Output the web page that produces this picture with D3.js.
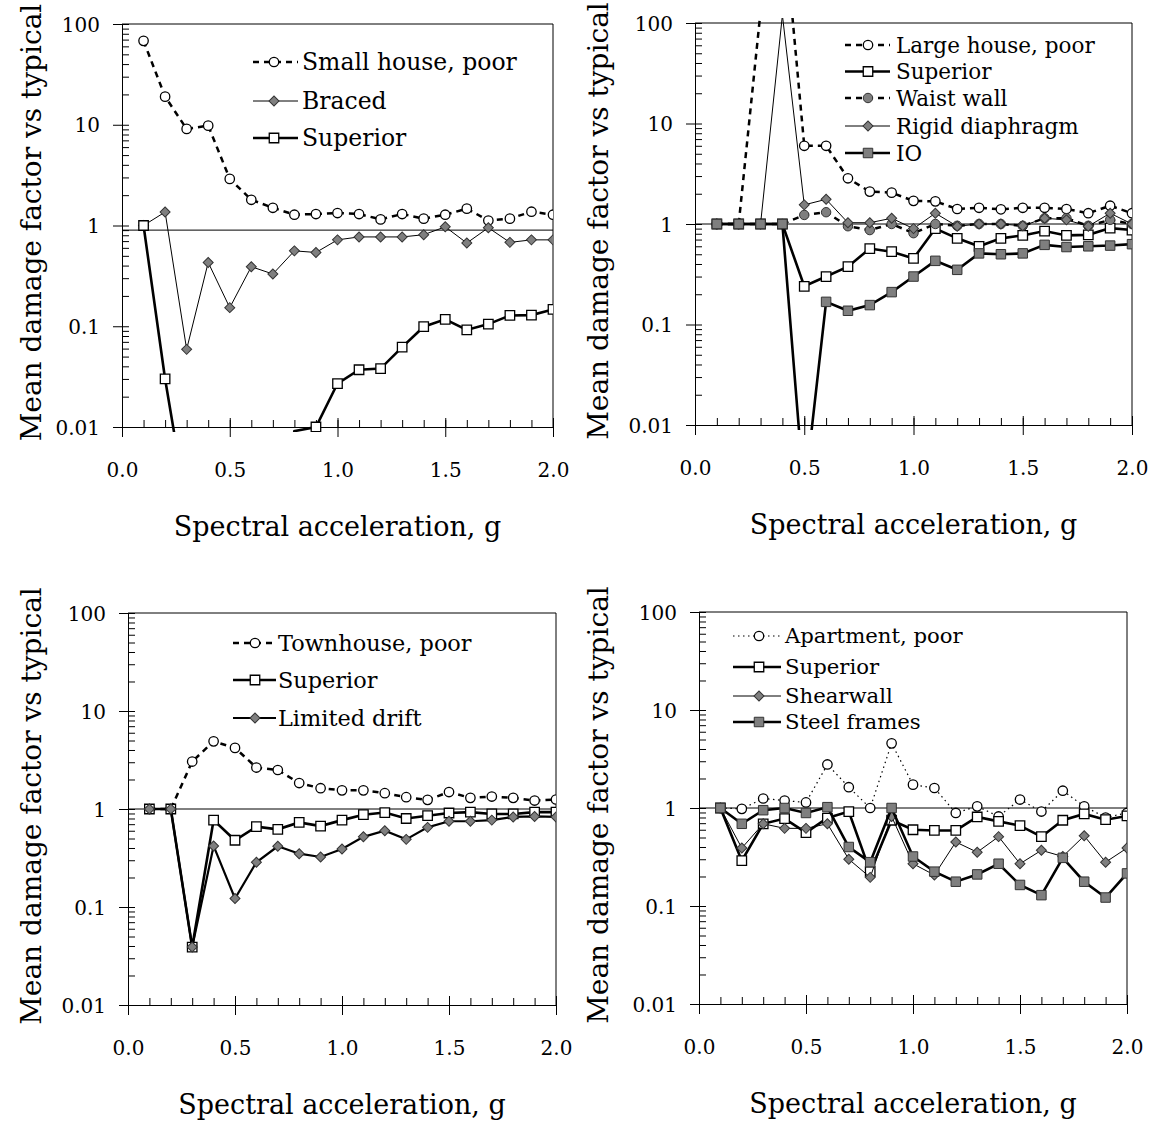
<!DOCTYPE html>
<html>
<head>
<meta charset="utf-8">
<script src="https://cdn.jsdelivr.net/npm/d3@7"></script>
<style>
  body { margin: 0; background: #fff; }
  svg { display: block; font-family: "DejaVu Serif", serif; }
</style>
</head>
<body>
<svg id="chart" width="1157" height="1125"></svg>
<script>
////////////////////////////////////////////////////////////////////
////  Data
var accel = [0.1, 0.2, 0.3, 0.4, 0.5, 0.6, 0.7, 0.8, 0.9, 1.0,
             1.1, 1.2, 1.3, 1.4, 1.5, 1.6, 1.7, 1.8, 1.9, 2.0];
var xTickValues = [0, 0.5, 1, 1.5, 2];
var xTickLabels = ["0.0", "0.5", "1.0", "1.5", "2.0"];
var yTickValues = [0.01, 0.1, 1, 10, 100];
var yTickLabels = ["0.01", "0.1", "1", "10", "100"];
var xTitle = "Spectral acceleration, g";
var yTitle = "Mean damage factor vs typical";

// small house
var smallHousePoor = [68, 19, 9.1, 9.8, 2.9, 1.8, 1.5, 1.28, 1.3, 1.33, 1.3, 1.15, 1.3, 1.17, 1.28, 1.47, 1.12, 1.17, 1.37, 1.28];
var smallBraced    = [1, 1.36, 0.059, 0.43, 0.153, 0.39, 0.33, 0.56, 0.54, 0.72, 0.77, 0.77, 0.77, 0.81, 0.97, 0.67, 0.95, 0.68, 0.72, 0.72];
var smallSuperior  = [1, 0.030, 0.0016, 0.001, 0.001, 0.001, 0.001, 0.0091, 0.010, 0.027, 0.037, 0.038, 0.062, 0.099, 0.117, 0.092, 0.105, 0.128, 0.129, 0.147];

// large house
var largeHousePoor = [1, 1, 130, 1400, 6.0, 6.0, 2.85, 2.1, 2.05, 1.7, 1.68, 1.41, 1.45, 1.4, 1.45, 1.45, 1.41, 1.28, 1.52, 1.28];
var largeSuperior  = [1, 1, 1, 1, 0.24, 0.30, 0.376, 0.57, 0.53, 0.455, 0.9, 0.72, 0.6, 0.72, 0.77, 0.85, 0.77, 0.78, 0.91, 0.87];
var largeWaistWall = [1, 1, 1, 1, 1.23, 1.31, 0.95, 0.87, 1.0, 0.81, 1.0, 0.96, 1.0, 1.0, 0.96, 1.14, 1.14, 0.96, 1.1, 1.0];
var largeRigid     = [1, 1, 1, 120, 1.55, 1.76, 1.03, 1.03, 1.14, 0.9, 1.28, 0.95, 1.0, 1.0, 0.96, 1.14, 1.1, 0.95, 1.28, 1.0];
var largeIO        = [1, 1, 1, 1, 0.002, 0.168, 0.137, 0.156, 0.21, 0.30, 0.43, 0.35, 0.51, 0.5, 0.51, 0.62, 0.59, 0.6, 0.61, 0.63];

// townhouse
var townPoor       = [1, 1, 3.05, 4.9, 4.2, 2.65, 2.5, 1.84, 1.63, 1.55, 1.55, 1.45, 1.32, 1.24, 1.49, 1.3, 1.34, 1.3, 1.22, 1.25];
var townSuperior   = [1, 1, 0.039, 0.77, 0.48, 0.66, 0.62, 0.73, 0.67, 0.77, 0.875, 0.92, 0.8, 0.855, 0.91, 0.93, 0.89, 0.89, 0.93, 0.93];
var townDrift      = [1, 1, 0.039, 0.42, 0.122, 0.286, 0.416, 0.35, 0.324, 0.39, 0.52, 0.6, 0.49, 0.65, 0.75, 0.75, 0.77, 0.83, 0.84, 0.83];

// apartment
var aptPoor        = [1, 0.98, 1.25, 1.19, 1.14, 2.78, 1.63, 1.0, 4.57, 1.73, 1.6, 0.89, 1.04, 0.82, 1.22, 0.92, 1.5, 1.04, 0.8, 0.89];
var aptSuperior    = [1, 0.29, 0.69, 0.78, 0.56, 0.79, 0.92, 0.224, 0.75, 0.6, 0.59, 0.59, 0.81, 0.73, 0.66, 0.51, 0.75, 0.87, 0.76, 0.83];
var aptShearwall   = [1, 0.39, 0.69, 0.62, 0.62, 0.69, 0.30, 0.196, 0.82, 0.27, 0.207, 0.45, 0.354, 0.51, 0.27, 0.37, 0.32, 0.52, 0.28, 0.39];
var aptSteel       = [1, 0.69, 0.95, 1.0, 0.89, 1.02, 0.40, 0.28, 1.0, 0.32, 0.224, 0.177, 0.21, 0.27, 0.164, 0.129, 0.31, 0.177, 0.122, 0.215];

////////////////////////////////////////////////////////////////////
////  Styles + layout
var grey = "#7f7f7f";
var styles = {
  poor:      {width: 2.5, dash: "6,5",     symbol: "circle",  fill: "#fff"},
  dotted:    {width: 1.2, dash: "1.5,3.5", symbol: "circle",  fill: "#fff"},
  superior:  {width: 2.6, dash: null,      symbol: "square",  fill: "#fff"},
  thinDiam:  {width: 1,   dash: null,      symbol: "diamond", fill: grey},
  thickDiam: {width: 2.2, dash: null,      symbol: "diamond", fill: grey},
  greyDash:  {width: 2.5, dash: "6,5",     symbol: "circle",  fill: grey},
  greySq:    {width: 2.6, dash: null,      symbol: "square",  fill: grey}
};

var panels = [
  {left: 122, right: 553, top: 24, bottom: 427, ref: 0.9, yTitleX: 31,
   legend: {x1: 253, x2: 298, mx: 274, tx: 302, size: 23.5, rows: [62, 101, 138]},
   series: [["Small house, poor", smallHousePoor, "poor"],
            ["Braced", smallBraced, "thinDiam"],
            ["Superior", smallSuperior, "superior"]]},
  {left: 695, right: 1132, top: 23, bottom: 425, ref: 1, yTitleX: 598,
   legend: {x1: 845, x2: 890, mx: 868, tx: 896, size: 21.5, rows: [45, 71.5, 98, 126, 153]},
   series: [["Large house, poor", largeHousePoor, "poor"],
            ["Superior", largeSuperior, "superior"],
            ["Waist wall", largeWaistWall, "greyDash"],
            ["Rigid diaphragm", largeRigid, "thinDiam"],
            ["IO", largeIO, "greySq"]]},
  {left: 128, right: 556, top: 613, bottom: 1005, ref: 1, yTitleX: 31,
   legend: {x1: 233, x2: 276, mx: 255, tx: 278, size: 22.4, rows: [643, 680, 718]},
   series: [["Townhouse, poor", townPoor, "poor"],
            ["Superior", townSuperior, "superior"],
            ["Limited drift", townDrift, "thickDiam"]]},
  {left: 699, right: 1127, top: 612, bottom: 1004, ref: 1, yTitleX: 598,
   legend: {x1: 733, x2: 781, mx: 759, tx: 785, size: 21.2, rows: [636, 667, 696, 722]},
   series: [["Apartment, poor", aptPoor, "dotted"],
            ["Superior", aptSuperior, "superior"],
            ["Shearwall", aptShearwall, "thinDiam"],
            ["Steel frames", aptSteel, "greySq"]]}
];

////////////////////////////////////////////////////////////////////
////  Marker helper
function symbolPath(kind) {
  if (kind == "circle") return d3.symbol().type(d3.symbolCircle).size(70)();
  if (kind == "square") return d3.symbol().type(d3.symbolSquare).size(90)();
  return d3.symbol().type(d3.symbolSquare).size(50)();   // rotated later -> diamond
}
function addMarker(sel, st) {
  return sel.append("path")
    .attr("d", symbolPath(st.symbol))
    .attr("fill", st.fill)
    .attr("stroke", st.fill == "#fff" ? "#000" : "#333")
    .attr("stroke-width", st.fill == "#fff" ? 1.3 : 1);
}

var svg = d3.select("#chart");
svg.append("rect").attr("width", 1157).attr("height", 1125).attr("fill", "#fff");

panels.forEach(function(p, pi) {
  var x = d3.scaleLinear().domain([0, 2]).range([p.left, p.right]);
  var y = d3.scaleLog().domain([0.01, 100]).range([p.bottom, p.top]);
  var g = svg.append("g");

  // frame (top/right)
  g.append("path")
    .attr("d", "M" + p.left + "," + p.top + "H" + p.right + "V" + p.bottom)
    .attr("fill", "none").attr("stroke", "#000").attr("stroke-width", 1);

  // reference line
  g.append("line")
    .attr("x1", p.left).attr("x2", p.right)
    .attr("y1", y(p.ref)).attr("y2", y(p.ref))
    .attr("stroke", "#000").attr("stroke-width", 1);

  // x axis: minor inside, major crossing
  g.append("g").attr("transform", "translate(0," + p.bottom + ")")
    .call(d3.axisBottom(x).tickValues(accel).tickSize(-7).tickSizeOuter(0).tickFormat(""));
  g.append("g").attr("transform", "translate(0," + p.bottom + ")")
    .call(d3.axisBottom(x).tickValues(xTickValues).tickSize(-9).tickSizeOuter(0).tickFormat(""));
  var xa = g.append("g").attr("transform", "translate(0," + p.bottom + ")")
    .call(d3.axisBottom(x).tickValues(xTickValues).tickSize(10).tickSizeOuter(0)
      .tickFormat(function(d, i) { return xTickLabels[i]; }));
  xa.selectAll("text").attr("y", 43).attr("dy", "0.35em");

  // y axis: minor inside, major crossing
  g.append("g").attr("transform", "translate(" + p.left + ",0)")
    .call(d3.axisLeft(y).tickValues(y.ticks()).tickSize(-7).tickSizeOuter(0).tickFormat(""));
  var ya = g.append("g").attr("transform", "translate(" + p.left + ",0)")
    .call(d3.axisLeft(y).tickValues(yTickValues).tickSize(9).tickPadding(13).tickSizeOuter(0)
      .tickFormat(function(d, i) { return yTickLabels[i]; }));
  ya.selectAll("text").attr("dy", "0.35em");

  g.selectAll(".domain, .tick line").attr("stroke", "#000").attr("stroke-width", 1);
  g.selectAll(".tick text").attr("fill", "#000");
  xa.attr("font-family", null).attr("font-size", 20);
  ya.attr("font-family", null).attr("font-size", 20);

  // titles
  g.append("text")
    .attr("x", (p.left + p.right) / 2).attr("y", p.bottom + 100).attr("dy", "0.35em")
    .attr("text-anchor", "middle").attr("font-size", 27).text(xTitle);
  g.append("text")
    .attr("transform", "translate(" + p.yTitleX + "," + ((p.top + p.bottom) / 2 - 3) + ") rotate(-90)")
    .attr("dy", "0.35em").attr("text-anchor", "middle").attr("font-size", 28).text(yTitle);

  // clip (excel lets lines run a few px past the plot area)
  svg.append("clipPath").attr("id", "clip" + pi)
    .append("rect").attr("x", p.left).attr("y", p.top - 5)
    .attr("width", p.right - p.left).attr("height", p.bottom - p.top + 10);

  var plot = g.append("g").attr("clip-path", "url(#clip" + pi + ")");
  var line = d3.line().x(function(d) { return x(d[0]); }).y(function(d) { return y(d[1]); });

  p.series.forEach(function(s) {
    var st = styles[s[2]];
    var pts = accel.map(function(a, i) { return [a, s[1][i]]; });
    var sg = plot.append("g");
    sg.append("path").datum(pts)
      .attr("d", line).attr("fill", "none")
      .attr("stroke", "#000").attr("stroke-width", st.width)
      .attr("stroke-dasharray", st.dash);
    // markers only inside axis range
    var mk = sg.selectAll("g.m")
      .data(pts.filter(function(d) { return d[1] >= 0.0099 && d[1] <= 101; }))
      .enter().append("g").attr("class", "m")
      .attr("transform", function(d) {
        return "translate(" + x(d[0]) + "," + y(d[1]) + ")" + (st.symbol == "diamond" ? " rotate(45)" : "");
      });
    mk.each(function() { addMarker(d3.select(this), st); });
  });

  // legend
  var L = p.legend;
  p.series.forEach(function(s, i) {
    var st = styles[s[2]];
    var ry = L.rows[i];
    g.append("line").attr("x1", L.x1).attr("x2", L.x2).attr("y1", ry).attr("y2", ry)
      .attr("stroke", "#000").attr("stroke-width", st.width).attr("stroke-dasharray", st.dash);
    var m = g.append("g").attr("transform", "translate(" + L.mx + "," + ry + ")" + (st.symbol == "diamond" ? " rotate(45)" : ""));
    addMarker(m, st);
    g.append("text").attr("x", L.tx).attr("y", ry).attr("dy", "0.35em")
      .attr("font-size", L.size).text(s[0]);
  });
});
</script>
</body>
</html>
